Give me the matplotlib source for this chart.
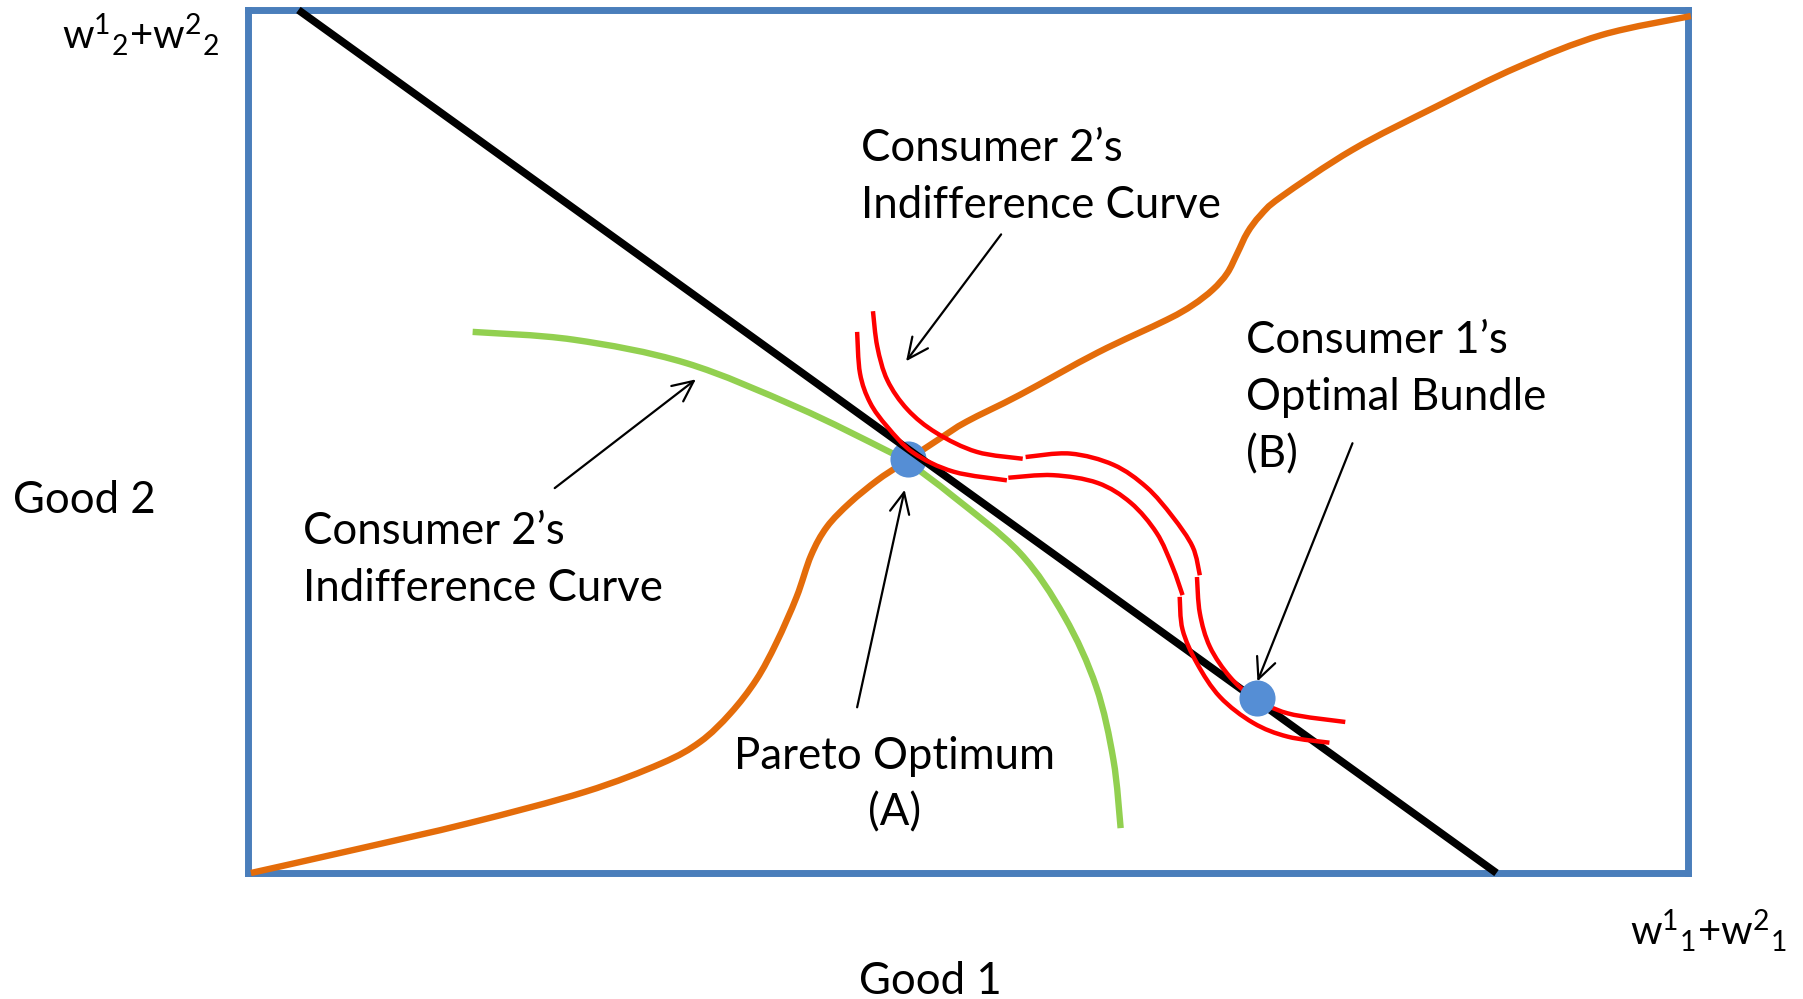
import matplotlib
matplotlib.use("Agg")
import matplotlib.pyplot as plt
from matplotlib.path import Path
from matplotlib.patches import PathPatch
import numpy as np

plt.rcParams['font.family'] = ['Lato', 'DejaVu Sans']
plt.rcParams['mathtext.fontset'] = 'custom'
plt.rcParams['mathtext.rm'] = 'Lato'
plt.rcParams['mathtext.it'] = 'Lato'

# ---- data (box units: Good 1 across 0..100, Good 2 up 0..100) ----
budget_x = [3.5, 86.7]
budget_y = [100.0, 0.0]

contract_x = [0.2, 7.4, 15.4, 23.4, 28.7, 31.4, 33.5, 35.3, 36.7, 38.1, 39.1, 40.2,
              41.8, 43.7, 45.3, 48.1, 49.9, 53.6, 59.0, 63.8, 65.6, 67.0,
              68.0, 68.7, 69.4, 70.3, 71.7, 76.7, 82.5, 88.2, 94.0, 100.2]
contract_y = [0.0, 2.7, 5.8, 9.4, 12.7, 15.2, 18.5, 22.4, 26.7, 32.0, 36.8, 40.1,
              42.9, 45.5, 47.3, 50.4, 52.3, 55.4, 60.3, 64.1, 65.8, 67.6,
              69.5, 71.8, 74.2, 76.2, 78.3, 83.8, 88.8, 93.4, 97.1, 99.3]

green_x = [15.6, 22.6, 30.4, 38.1, 44.3, 45.9, 49.0, 53.6, 56.7, 58.9, 60.1, 60.6]
green_y = [62.7, 61.8, 59.1, 54.0, 49.0, 47.5, 43.6, 37.1, 29.7, 21.6, 13.1, 5.2]

red_outer = [
    ([42.3, 42.5, 43.2, 44.4, 46.2, 49.0, 52.7], [62.7, 57.9, 54.5, 51.7, 48.7, 46.5, 45.5]),
    ([52.8, 55.9, 59.0, 61.3, 63.1, 64.2, 64.9], [45.8, 46.1, 45.2, 42.9, 39.4, 35.5, 32.2]),
    ([64.7, 64.9, 65.9, 67.5, 69.8, 72.2, 75.1], [32.0, 28.2, 24.3, 20.4, 17.4, 15.8, 15.1]),
]
red_inner = [
    ([43.4, 43.7, 44.4, 45.8, 47.8, 50.6, 53.8], [65.1, 61.0, 57.1, 53.7, 51.0, 48.8, 48.0]),
    ([54.0, 57.1, 60.1, 62.4, 64.2, 65.6, 66.1], [48.2, 48.6, 47.3, 44.7, 41.3, 37.8, 34.5]),
    ([65.9, 66.1, 66.8, 68.2, 69.8, 72.2, 76.2], [34.3, 30.1, 26.2, 22.7, 20.4, 18.5, 17.5]),
]

point_A = (45.8, 48.0)
point_B = (70.1, 20.3)

# arrows: (tail, head)
arrows = [
    ((52.3, 74.0), (45.7, 59.3)),
    ((21.3, 44.6), (31.1, 57.2)),
    ((42.3, 19.2), (45.6, 44.4)),
    ((76.7, 49.8), (70.1, 22.2)),
]

label_c2_top = ["Consumer 2\u2019s", "Indifference Curve"]
label_c2_left = ["Consumer 2\u2019s", "Indifference Curve"]
label_pareto = ["Pareto Optimum", "(A)"]
label_c1 = ["Consumer 1\u2019s", "Optimal Bundle", "(B)"]
label_good1 = "Good 1"
label_good2 = "Good 2"
label_w1 = r"$\mathregular{w^1{}_1{+}w^2{}_1}$"
label_w2 = r"$\mathregular{w^1{}_2{+}w^2{}_2}$"

# ---- drawing ----
W, H, DPI = 1803, 999, 100
fig = plt.figure(figsize=(W / DPI, H / DPI), dpi=DPI)
fig.patch.set_facecolor('white')
ax = fig.add_axes([248 / W, (999 - 873) / H, 1440 / W, 863 / H])
ax.set_xlim(0, 100)
ax.set_ylim(0, 100)
ax.set_xticks([])
ax.set_yticks([])
for s in ax.spines.values():
    s.set_color('#4a7ebb')
    s.set_linewidth(5)
    s.set_zorder(1)

ORANGE = '#e46c0a'
GREEN = '#92d050'
RED = '#ff0000'
DOT = '#558ed5'


def smooth_line(xs, ys, color, lw, z):
    """Draw a smooth Bezier path passing through the given points."""
    P = np.column_stack([xs, ys]).astype(float)
    n = len(P)
    verts = [P[0]]
    codes = [Path.MOVETO]
    for i in range(n - 1):
        p0 = P[i - 1] if i > 0 else P[i]
        p1 = P[i]
        p2 = P[i + 1]
        p3 = P[i + 2] if i + 2 < n else P[i + 1]
        c1 = p1 + (p2 - p0) / 6.0
        c2 = p2 - (p3 - p1) / 6.0
        verts += [c1, c2, p2]
        codes += [Path.CURVE4] * 3
    patch = PathPatch(Path(verts, codes), facecolor='none', edgecolor=color,
                      lw=lw, capstyle='butt', joinstyle='round', zorder=z,
                      clip_on=False)
    ax.add_patch(patch)


smooth_line(green_x, green_y, GREEN, 4.6, 2)
smooth_line(contract_x, contract_y, ORANGE, 4.6, 3)
ax.plot(*point_A, 'o', ms=26, color=DOT, mec='none', zorder=4)
ax.plot(budget_x, budget_y, color='black', lw=5.5, solid_capstyle='butt',
        zorder=5, clip_on=False)
for xs, ys in red_outer + red_inner:
    smooth_line(xs, ys, RED, 3.2, 6)
ax.plot(*point_B, 'o', ms=26, color=DOT, mec='none', zorder=7)

for tail, head in arrows:
    ax.annotate('', xy=head, xytext=tail,
                arrowprops=dict(arrowstyle='->,head_length=0.75,head_width=0.35',
                                color='black', lw=1.6, shrinkA=0, shrinkB=0,
                                mutation_scale=20),
                zorder=8)

FS = 31.5
PITCH = 57 / 8.63  # line pitch in box units


def lines(txt_lines, x, y0, ha='left'):
    for i, t in enumerate(txt_lines):
        ax.text(x, y0 - i * PITCH, t, fontsize=FS, ha=ha, va='baseline',
                color='black', zorder=9)


lines(label_c2_top, 42.6, 82.5)
lines(label_c2_left, 3.8, 38.1)
lines(label_pareto, 44.9, 12.1, ha='center')
lines(label_c1, 69.3, 60.2)
ax.text(-16.3, 41.7, label_good2, fontsize=FS, ha='left', va='baseline')
ax.text(47.4, -14.0, label_good1, fontsize=FS, ha='center', va='baseline')
ax.text(96.0, -8.3, label_w1, fontsize=29, ha='left', va='baseline')
ax.text(-12.9, 95.5, label_w2, fontsize=29, ha='left', va='baseline')

fig.savefig('out.png', dpi=DPI, facecolor='white')
